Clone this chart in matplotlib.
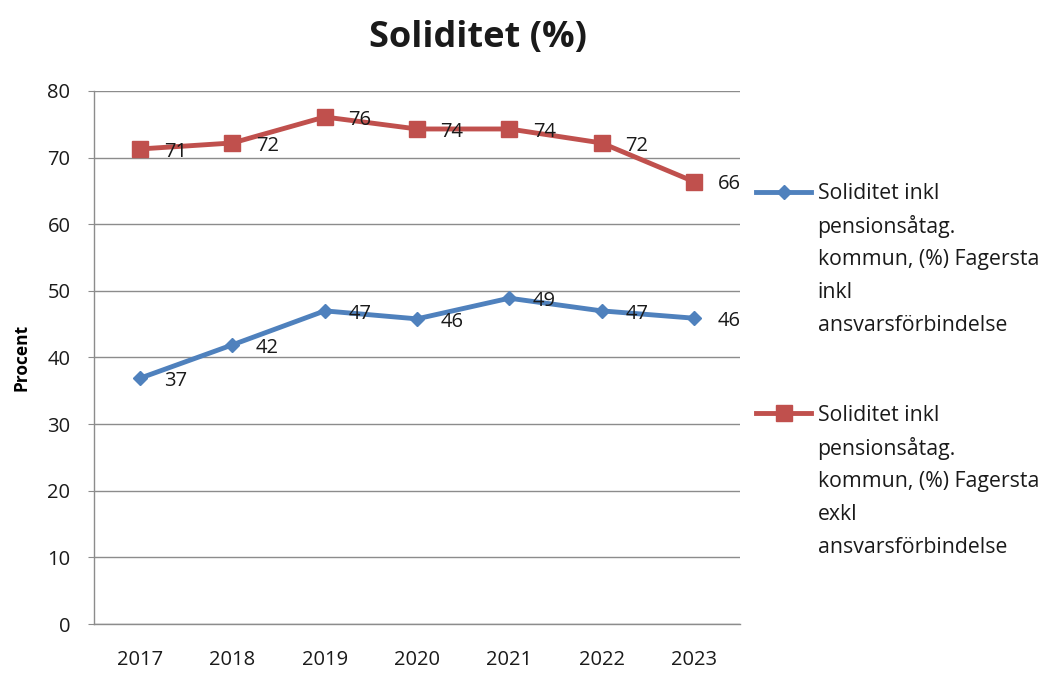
import matplotlib
matplotlib.use("Agg")
import matplotlib.pyplot as plt

plt.rcParams['font.family'] = ['Open Sans', 'DejaVu Sans']

years = ["2017", "2018", "2019", "2020", "2021", "2022", "2023"]
inkl = [36.9, 41.9, 47.0, 45.8, 48.9, 47.0, 45.9]
exkl = [71.3, 72.2, 76.1, 74.3, 74.3, 72.2, 66.4]
inkl_labels = ["37", "42", "47", "46", "49", "47", "46"]
exkl_labels = ["71", "72", "76", "74", "74", "72", "66"]
yticks = [0, 10, 20, 30, 40, 50, 60, 70, 80]

name_first = "Soliditet inkl"
name_inkl_rest = ["pensionsåtag.", "kommun, (%) Fagersta", "inkl", "ansvarsförbindelse"]
name_exkl_rest = ["pensionsåtag.", "kommun, (%) Fagersta", "exkl", "ansvarsförbindelse"]

BLUE = "#4F81BD"
RED = "#C0504D"
GRID = "#8C8C8C"
TXT = "#1a1a1a"
FS = 14.5
LFS = 15.3

fig = plt.figure(figsize=(10.64, 6.75), dpi=100)
ax = fig.add_axes([94/1064, 1-624/675, (740-94)/1064, (624-91)/675])

x = list(range(len(years)))
l1, = ax.plot(x, inkl, color=BLUE, lw=3.5, marker='D', ms=7.5, zorder=3)
l2, = ax.plot(x, exkl, color=RED, lw=3.5, marker='s', ms=11.5, zorder=3)

for xi, v, lab in zip(x, inkl, inkl_labels):
    ax.annotate(lab, (xi, v), xytext=(17, -2), textcoords='offset points',
                ha='left', va='center', fontsize=FS, color=TXT)
for xi, v, lab in zip(x, exkl, exkl_labels):
    ax.annotate(lab, (xi, v), xytext=(17, -2), textcoords='offset points',
                ha='left', va='center', fontsize=FS, color=TXT)

ax.set_xlim(-0.5, len(years) - 0.5)
ax.set_ylim(0, 80)
ax.set_yticks(yticks)
ax.set_xticks(x)
ax.set_xticklabels(years)
ax.yaxis.grid(True, color=GRID, lw=1)
ax.set_axisbelow(True)
for s in ['top', 'right']:
    ax.spines[s].set_visible(False)
for s in ['left', 'bottom']:
    ax.spines[s].set_color(GRID)
    ax.spines[s].set_linewidth(1)
ax.tick_params(axis='y', length=4, color=GRID, pad=13, labelsize=FS, labelcolor=TXT)
ax.tick_params(axis='x', length=0, pad=19, labelsize=FS, labelcolor=TXT)
ax.set_ylabel("Procent", fontsize=12.5, fontweight='bold', labelpad=12)

fig.text(478/1064, 1-38/675, "Soliditet (%)", ha='center', va='center',
         fontsize=26, fontweight='bold', color=TXT)

leg = fig.legend([l1, l2], [name_first, name_first], loc='upper left',
                 bbox_to_anchor=(756/1064, 1-183/675), frameon=False,
                 fontsize=LFS, handlelength=2.6, handletextpad=0.3,
                 borderpad=0, borderaxespad=0, labelspacing=9.45)
for t in leg.get_texts():
    t.set_color(TXT)

fig.canvas.draw()
inv = fig.transFigure.inverted()
for t, rest in zip(leg.get_texts(), [name_inkl_rest, name_exkl_rest]):
    bb = t.get_window_extent()
    cy = (bb.y0 + bb.y1) / 2
    for i, line in enumerate(rest):
        fx, fy = inv.transform((bb.x0, cy - (i + 1) * 33))
        fig.text(fx, fy, line, ha='left', va='center', fontsize=LFS, color=TXT)

fig.savefig("out.png", dpi=100)
